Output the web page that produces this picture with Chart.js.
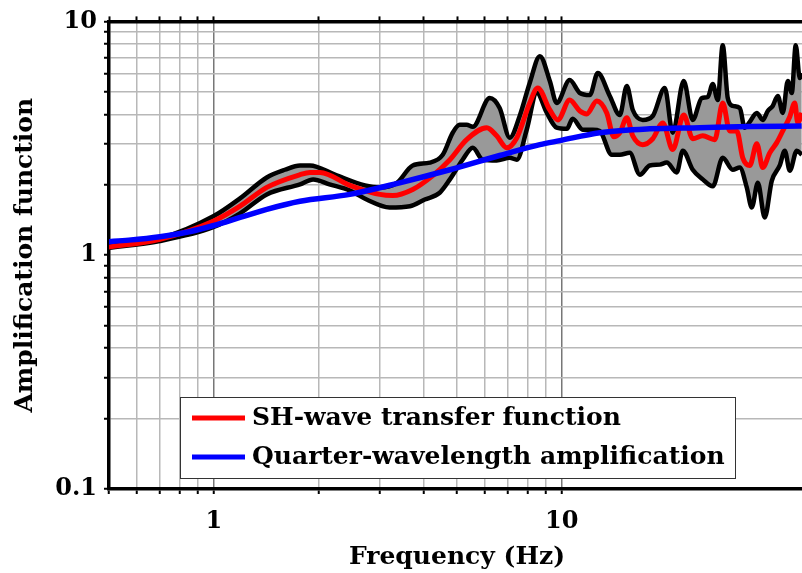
<!DOCTYPE html>
<html>
<head>
<meta charset="utf-8">
<script src="https://cdn.jsdelivr.net/npm/chart.js@4.4.1/dist/chart.umd.min.js"></script>
<style>
  html, body { margin: 0; padding: 0; background: #fff; overflow: hidden; }
</style>
</head>
<body>
<canvas id="chart" width="805" height="573"></canvas>
<script>
// values: frequency (Hz) and amplification
const upperFreq = [0.49, 0.70, 1.00, 1.19, 1.42, 1.60, 1.77, 1.89, 2.23, 2.72, 3.00, 3.36, 3.73, 4.18, 4.55, 4.86, 5.09, 5.33, 5.55, 6.21, 6.63, 7.09, 7.57, 8.09, 8.65, 9.24, 9.67, 10.54, 11.27, 12.04, 12.69, 13.74, 14.68, 15.38, 16.00, 17.09, 18.26, 19.77, 20.84, 22.41, 23.79, 25.25, 26.28, 27.16, 28.07, 29.01, 29.99, 30.99, 32.47, 33.56, 34.69, 36.35, 37.81, 39.08, 40.39, 41.76, 43.16, 44.62, 45.81, 47.03, 48.30, 48.94];
const upperAmp = [1.10, 1.18, 1.47, 1.75, 2.15, 2.32, 2.42, 2.42, 2.21, 1.99, 1.95, 2.04, 2.42, 2.49, 2.69, 3.34, 3.61, 3.61, 3.54, 4.70, 4.26, 3.18, 3.94, 5.45, 7.10, 5.56, 4.48, 5.61, 4.94, 4.84, 6.01, 4.80, 3.98, 5.29, 4.18, 3.79, 3.94, 5.19, 3.34, 5.56, 3.79, 4.70, 4.75, 5.40, 4.61, 7.91, 4.70, 4.35, 4.26, 3.51, 3.72, 4.06, 3.79, 4.14, 4.35, 4.80, 4.06, 5.56, 4.94, 7.91, 5.72, 6.01];

const lowerFreq = [0.49, 0.70, 1.00, 1.19, 1.42, 1.77, 1.93, 2.15, 2.46, 2.75, 3.20, 3.66, 4.04, 4.46, 4.77, 5.19, 5.55, 5.93, 6.50, 7.09, 7.43, 7.93, 8.48, 9.06, 9.67, 10.34, 10.75, 11.49, 12.28, 12.86, 13.92, 14.68, 15.68, 16.76, 17.90, 19.12, 20.03, 21.40, 22.27, 23.79, 25.42, 27.16, 29.01, 30.99, 32.47, 34.01, 35.16, 36.59, 38.31, 40.13, 42.31, 43.74, 45.21, 47.35, 48.94];
const lowerAmp = [1.07, 1.15, 1.32, 1.51, 1.82, 2.01, 2.11, 2.01, 1.89, 1.73, 1.60, 1.62, 1.73, 1.85, 2.11, 2.56, 2.88, 2.56, 2.54, 2.61, 2.56, 3.44, 4.94, 4.06, 3.51, 3.47, 3.83, 3.44, 3.44, 3.40, 2.69, 2.69, 2.74, 2.21, 2.42, 2.44, 2.49, 2.26, 2.80, 2.32, 2.11, 1.97, 2.61, 2.32, 2.37, 1.95, 1.60, 2.04, 1.45, 2.08, 2.42, 2.80, 2.30, 2.80, 2.69];

const shFreq = [0.49, 0.70, 1.00, 1.19, 1.42, 1.77, 1.89, 2.02, 2.46, 3.00, 3.27, 3.73, 4.26, 4.77, 5.33, 6.09, 6.50, 6.95, 7.43, 8.09, 8.53, 9.24, 9.74, 10.54, 11.27, 11.80, 12.61, 13.47, 14.11, 14.68, 15.38, 16.00, 17.09, 18.26, 19.51, 20.84, 22.41, 23.79, 25.42, 27.52, 29.01, 30.39, 31.83, 33.12, 34.69, 36.35, 37.81, 39.60, 41.48, 43.16, 45.21, 46.72, 47.67, 48.94];
const shAmp = [1.08, 1.17, 1.40, 1.62, 1.95, 2.21, 2.26, 2.26, 1.99, 1.82, 1.80, 1.91, 2.19, 2.56, 3.12, 3.51, 3.24, 2.88, 3.18, 4.48, 5.19, 4.18, 3.79, 4.61, 4.14, 4.02, 4.57, 4.06, 3.21, 3.34, 3.87, 3.24, 2.97, 3.15, 3.68, 2.83, 3.98, 3.15, 3.24, 3.12, 4.48, 3.40, 3.40, 2.61, 2.42, 3.00, 2.37, 2.74, 3.03, 3.40, 3.91, 4.48, 3.68, 4.06];

const qwlFreq = [0.49, 0.57, 0.70, 0.85, 1.00, 1.19, 1.42, 1.77, 2.46, 3.42, 4.77, 6.63, 8.65, 9.87, 12.86, 17.90, 24.90, 34.70, 48.90];
const qwlAmp = [1.14, 1.16, 1.20, 1.26, 1.34, 1.45, 1.57, 1.70, 1.82, 2.04, 2.32, 2.67, 2.97, 3.09, 3.34, 3.47, 3.51, 3.55, 3.57];

const xTicks = [0.5, 0.6, 0.7, 0.8, 0.9, 1, 2, 3, 4, 5, 6, 7, 8, 9, 10];
const yTicks = [0.1, 0.2, 0.3, 0.4, 0.5, 0.6, 0.7, 0.8, 0.9, 1, 2, 3, 4, 5, 6, 7, 8, 9, 10];
const xLabels = [1, 10];
const yLabels = [0.1, 1, 10];

const pts = (xs, ys) => xs.map((x, i) => ({ x: x, y: ys[i] }));
const font = { family: "'DejaVu Serif', serif", weight: 'bold', size: 24 };
const titleFont = { family: "'DejaVu Serif', serif", weight: 'bold', size: 25 };

// legend box drawn inside the plot
const legendBox = {
  id: 'legendBox',
  afterDraw(chart) {
    const ctx = chart.ctx;
    const area = chart.chartArea;
    const bx = area.left + 71, by = area.bottom - 92, bw = 555, bh = 81;
    const items = chart.data.datasets.filter(d => d.showInLegend);
    ctx.save();
    ctx.fillStyle = '#fff';
    ctx.fillRect(bx, by, bw, bh);
    ctx.strokeStyle = '#333';
    ctx.lineWidth = 1;
    ctx.strokeRect(bx + 0.5, by + 0.5, bw, bh);
    ctx.font = 'bold 25px "DejaVu Serif", serif';
    ctx.textBaseline = 'middle';
    items.forEach((d, i) => {
      const y = by + 21 + i * 39;
      ctx.strokeStyle = d.borderColor;
      ctx.lineWidth = 5;
      ctx.beginPath();
      ctx.moveTo(bx + 12, y);
      ctx.lineTo(bx + 65, y);
      ctx.stroke();
      ctx.fillStyle = '#000';
      ctx.fillText(d.label, bx + 72, y);
    });
    ctx.restore();
  }
};

const setTicks = list => scale => {
  scale.ticks = list.map(v => ({ value: v }));
};

const gridColor = c => (c.tick && (c.tick.value === 1 || c.tick.value === 10)) ? '#777777' : '#b8b8b8';

new Chart(document.getElementById('chart'), {
  type: 'line',
  data: {
    datasets: [
      {
        label: 'Upper bound',
        data: pts(upperFreq, upperAmp),
        borderColor: '#000',
        borderWidth: 4.5,
        pointRadius: 0,
        fill: false,
        cubicInterpolationMode: 'monotone',
        order: 3
      },
      {
        label: 'Lower bound',
        data: pts(lowerFreq, lowerAmp),
        borderColor: '#000',
        borderWidth: 4.5,
        pointRadius: 0,
        fill: '-1',
        backgroundColor: '#999999',
        cubicInterpolationMode: 'monotone',
        order: 2
      },
      {
        label: 'SH-wave transfer function',
        showInLegend: true,
        data: pts(shFreq, shAmp),
        borderColor: '#ff0000',
        borderWidth: 5,
        pointRadius: 0,
        fill: false,
        cubicInterpolationMode: 'monotone',
        order: 1
      },
      {
        label: 'Quarter-wavelength amplification',
        showInLegend: true,
        data: pts(qwlFreq, qwlAmp),
        borderColor: '#0000ff',
        borderWidth: 5.5,
        pointRadius: 0,
        fill: false,
        cubicInterpolationMode: 'monotone',
        order: 0
      }
    ]
  },
  options: {
    responsive: false,
    animation: false,
    layout: { padding: 0 },
    plugins: {
      legend: { display: false },
      tooltip: { enabled: false },
      filler: { drawTime: 'beforeDatasetsDraw' }
    },
    scales: {
      x: {
        type: 'logarithmic',
        position: 'bottom',
        min: 0.5,
        max: 50,
        afterBuildTicks: setTicks(xTicks),
        afterFit: s => { s.height = 84; },
        ticks: {
          autoSkip: false,
          maxRotation: 0,
          padding: 13,
          color: '#000',
          font: font,
          callback: v => xLabels.includes(v) ? String(v) : ''
        },
        grid: { color: gridColor, lineWidth: 1.5, tickColor: '#000', tickLength: 5, tickWidth: 2 },
        border: { color: '#000', width: 3.5 },
        title: { display: true, text: 'Frequency (Hz)', color: '#000', font: titleFont, padding: { top: 0, bottom: 1 } }
      },
      xTop: {
        type: 'logarithmic',
        position: 'top',
        min: 0.5,
        max: 50,
        afterBuildTicks: setTicks(xTicks),
        afterFit: s => { s.height = 18; },
        ticks: { display: false },
        grid: { drawOnChartArea: false, tickColor: '#000', tickLength: 5, tickWidth: 2 },
        border: { color: '#000', width: 3.5 }
      },
      y: {
        type: 'logarithmic',
        position: 'left',
        min: 0.1,
        max: 10,
        afterBuildTicks: setTicks(yTicks),
        afterFit: s => { s.width = 109; },
        ticks: {
          autoSkip: false,
          padding: 7,
          color: '#000',
          font: font,
          callback: v => yLabels.includes(v) ? String(v) : ''
        },
        grid: { color: '#b8b8b8', lineWidth: 1.5, tickColor: '#000', tickLength: 5, tickWidth: 2 },
        border: { color: '#000', width: 3.5 },
        title: { display: true, text: 'Amplification function', color: '#000', font: titleFont, padding: { top: 10, bottom: 0 } }
      }
    }
  },
  plugins: [legendBox]
});
</script>
</body>
</html>
